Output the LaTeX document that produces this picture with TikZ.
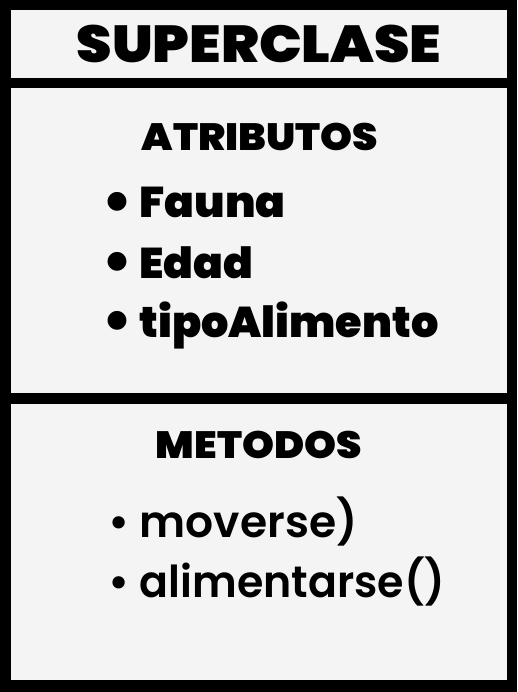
\documentclass[tikz,border=0pt]{standalone}
\usepackage{graphicx}
\usepackage{fontspec}
\setmainfont{Poppins}
\newfontfamily\heavyfont{Poppins}[UprightFont=* Black]
\newfontfamily\semifont{Poppins}[UprightFont=* SemiBold]
\definecolor{panelgray}{HTML}{F4F4F4}
\newcommand{\widen}[2]{\scalebox{#1}[1]{#2}}
\newcommand{\bigdot}{\raisebox{-0.1ex}{\scalebox{1.3}{\textbullet}}}
\begin{document}
\begin{tikzpicture}[x=1pt,y=-1pt,
panel/.style={fill=panelgray},
titletext/.style={font=\heavyfont\fontsize{52}{52}\selectfont},
headtext/.style={font=\heavyfont\fontsize{38}{38}\selectfont},
attrtext/.style={anchor=base west,inner sep=0pt,font=\heavyfont\fontsize{43}{43}\selectfont},
methtext/.style={anchor=base west,inner sep=0pt,font=\semifont\fontsize{44}{44}\selectfont}]
	% frame and the three compartments
	\fill[black] (0,0) rectangle (517,692);
	\fill[panel] (11,10) rectangle (507,78);
	\fill[panel] (11,88) rectangle (507,393);
	\fill[panel] (11,404) rectangle (507,680);
	% class name
	\node[titletext] (superclase) at (259,44) {\widen{1.09}{SUPERCLASE}};
	% attributes
	\node[headtext] (atributos) at (260,137) {\widen{1.07}{ATRIBUTOS}};
	\node[attrtext] (fauna) at (102,218) {\bigdot\ \widen{1.02}{Fauna}};
	\node[attrtext] (edad) at (102,278) {\bigdot\ \widen{1.02}{Edad}};
	\node[attrtext] (tipo) at (102,337) {\bigdot\ \widen{1.0}{tipoAlimento}};
	% methods
	\node[headtext] (metodos) at (259,445) {\widen{1.07}{METODOS}};
	\node[methtext] (moverse) at (108,537) {\textbullet\ moverse)};
	\node[methtext] (alimentarse) at (108,597) {\textbullet\ \widen{0.97}{alimentarse()}};
\end{tikzpicture}
\end{document}
